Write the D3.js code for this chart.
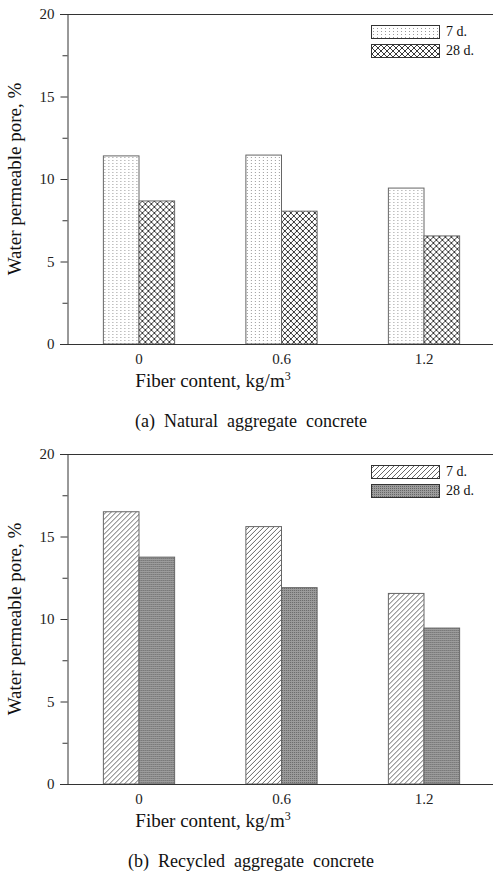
<!DOCTYPE html>
<html><head><meta charset="utf-8">
<script src="https://cdn.jsdelivr.net/npm/d3@7"></script>
<style>body{margin:0;background:#fff}svg{display:block}text{font-family:"Liberation Serif","Times New Roman",serif}</style>
</head><body><div id="c"></div>
<script>
const categories = ["0", "0.6", "1.2"];
const seriesNames = ["7 d.", "28 d."];
const natural7 = [11.4, 11.45, 9.45];
const natural28 = [8.67, 8.05, 6.55];
const recycled7 = [16.5, 15.6, 11.55];
const recycled28 = [13.75, 11.9, 9.45];
const yTicks = [0, 5, 10, 15, 20];
const yMinorTicks = [2.5, 7.5, 12.5, 17.5];
const xTitle = "Fiber content, kg/m";
const yTitle = "Water permeable pore, %";
const captions = ["(a)  Natural  aggregate  concrete", "(b)  Recycled  aggregate  concrete"];

const FF = "Liberation Serif";
const W = 493, H = 875;
const svg = d3.select("#c").append("svg").attr("width", W).attr("height", H);
const defs = svg.append("defs");

const pDots = defs.append("pattern").attr("id","dots").attr("patternUnits","userSpaceOnUse").attr("width",4).attr("height",3);
pDots.append("rect").attr("width",4).attr("height",3).attr("fill","#fff");
pDots.append("rect").attr("x",1).attr("y",1).attr("width",1).attr("height",1).attr("fill","#9a9a9a");
const pCross = defs.append("pattern").attr("id","cross").attr("patternUnits","userSpaceOnUse").attr("width",6).attr("height",6);
pCross.append("rect").attr("width",6).attr("height",6).attr("fill","#fff");
pCross.append("path").attr("d","M0,0L6,6M0,6L6,0").attr("stroke","#222").attr("stroke-width",0.9).attr("fill","none");
const pHatch = defs.append("pattern").attr("id","hatch").attr("patternUnits","userSpaceOnUse").attr("width",5).attr("height",5);
pHatch.append("rect").attr("width",5).attr("height",5).attr("fill","#fff");
pHatch.append("path").attr("d","M0,5L5,0M-1,1L1,-1M4,6L6,4").attr("stroke","#555").attr("stroke-width",0.9).attr("fill","none");
const pGray = defs.append("pattern").attr("id","gray").attr("patternUnits","userSpaceOnUse").attr("width",2).attr("height",2);
pGray.append("rect").attr("width",2).attr("height",2).attr("fill","#9c9c9c");
pGray.append("rect").attr("width",1).attr("height",1).attr("fill","#666");

function panel(top, v7, v28, fills, caption) {
  const y0 = top + 344, y20 = top + 14;
  const y = d3.scaleLinear().domain([0, 20]).range([y0, y20]);
  const x = d3.scaleBand().domain(categories).range([67.75, 495.25]).padding(0);
  const gw = x.bandwidth() * 0.5;
  const xs = d3.scaleBand().domain(seriesNames).range([0, gw]).padding(0);
  const g = svg.append("g");
  const data = categories.map((c, i) => ({c, vals: [v7[i], v28[i]]}));
  const grp = g.selectAll("g.grp").data(data).join("g")
    .attr("transform", d => `translate(${x(d.c) + (x.bandwidth() - gw) / 2},0)`);
  grp.selectAll("rect").data(d => d.vals.map((v, k) => ({v, k}))).join("rect")
    .attr("x", d => xs(seriesNames[d.k]))
    .attr("width", xs.bandwidth())
    .attr("y", d => y(d.v))
    .attr("height", d => y(0) - y(d.v))
    .attr("fill", d => `url(#${fills[d.k]})`)
    .attr("stroke", "#666").attr("stroke-width", 1);

  const ya = g.append("g").attr("transform", "translate(67.5,0)")
    .call(d3.axisLeft(y).tickValues(yTicks).tickSize(7).tickPadding(6).tickFormat(d3.format("d")));
  ya.attr("font-family", FF);
  ya.select(".domain").attr("stroke", "#333");
  ya.selectAll(".tick line").attr("stroke", "#333");
  ya.selectAll("text").attr("font-size", 15).attr("fill", "#222");
  const ym = g.append("g").attr("transform", "translate(67.5,0)")
    .call(d3.axisLeft(y).tickValues(yMinorTicks).tickSize(5).tickFormat(""));
  ym.select(".domain").remove();
  ym.selectAll(".tick line").attr("stroke", "#333");

  const xa = g.append("g").attr("transform", `translate(0,${y0 + 0.5})`)
    .call(d3.axisBottom(x).tickSize(0).tickPadding(9));
  xa.attr("font-family", FF);
  xa.select(".domain").attr("stroke", "#333").attr("d", `M60,0H493`);
  xa.selectAll("text").attr("font-size", 15).attr("fill", "#222");

  g.append("line").attr("x1", 60).attr("x2", 493).attr("y1", y20 + 0.5).attr("y2", y20 + 0.5).attr("stroke", "#333");

  const xt = g.append("text").attr("x", 213).attr("y", top + 387).attr("text-anchor", "middle")
    .attr("font-family", FF).attr("font-size", 19).attr("fill", "#111");
  xt.append("tspan").text(xTitle);
  xt.append("tspan").attr("font-size", 12).attr("dy", -7).text("3");
  g.append("text").attr("transform", `translate(21,${(y0 + y20) / 2}) rotate(-90)`)
    .attr("font-family", FF).attr("text-anchor", "middle").attr("font-size", 19).attr("fill", "#111").text(yTitle);
  g.append("text").attr("x", 251).attr("y", top + 427).attr("text-anchor", "middle")
    .attr("font-family", FF).attr("font-size", 18).attr("fill", "#111").attr("xml:space", "preserve").style("white-space", "pre").text(caption);

  const lg = g.append("g");
  seriesNames.forEach((s, k) => {
    const ly = top + 25 + k * 19;
    lg.append("rect").attr("x", 371.5).attr("y", ly + 0.5).attr("width", 68).attr("height", 13)
      .attr("fill", `url(#${fills[k]})`).attr("stroke", "#333");
    lg.append("text").attr("x", 446).attr("y", ly + 11).attr("font-family", FF).attr("font-size", 14).attr("fill", "#111").text(s);
  });
}

panel(0, natural7, natural28, ["dots", "cross"], captions[0]);
panel(440, recycled7, recycled28, ["hatch", "gray"], captions[1]);
</script>
</body></html>
